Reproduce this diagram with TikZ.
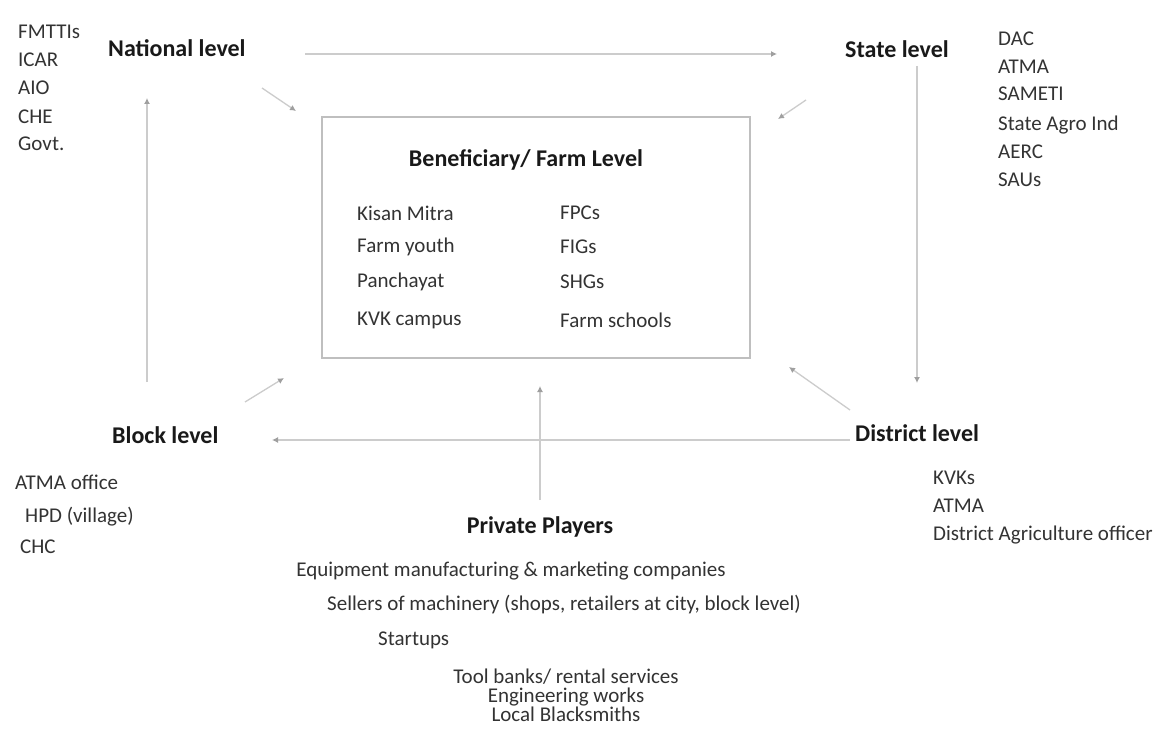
\documentclass[tikz,border=0pt]{standalone}
\usepackage{fontspec}
\setmainfont{Carlito}
\usetikzlibrary{arrows.meta}
\tikzset{
  lbl/.style={inner sep=0pt, anchor=west, text=black!80, font=\fontsize{21}{24}\selectfont},
  head/.style={inner sep=0pt, text=black!90, font=\bfseries\fontsize{24}{28}\selectfont},
  arr/.style={draw=gray!40, line width=1.3pt,
    -{Latex[length=6pt,width=6pt,color=gray!75,fill=gray!75]}},
  farmbox/.style={draw=gray!50, line width=1.6pt, fill=white}
}
\begin{document}
\begin{tikzpicture}[x=1pt,y=-1pt]
\useasboundingbox[fill=white] (0,0) rectangle (1153,738);

% level headings
\node[head, anchor=west] (nat) at (108,48) {National level};
\node[head, anchor=west] (state) at (845,49) {State level};
\node[head, anchor=west] (block) at (112,435) {Block level};
\node[head, anchor=west] (dist) at (855,433) {District level};
\node[head] (priv) at (540,527) {Private Players};

% national level bodies
\node[lbl] (n1) at (18,32) {FMTTIs};
\node[lbl] (n2) at (18,60) {ICAR};
\node[lbl] (n3) at (18,88) {AIO};
\node[lbl] (n4) at (18,117) {CHE};
\node[lbl] (n5) at (18,144) {Govt.};

% state level bodies
\node[lbl] (s1) at (998,39) {DAC};
\node[lbl] (s2) at (998,67) {ATMA};
\node[lbl] (s3) at (998,94) {SAMETI};
\node[lbl] (s4) at (998,125) {State Agro Ind};
\node[lbl] (s5) at (998,152) {AERC};
\node[lbl] (s6) at (998,180) {SAUs};

% central beneficiary box
\node[farmbox, minimum width=428pt, minimum height=241pt] (box) at (536,237.5) {};
\node[head] (boxt) at (526,160) {Beneficiary/ Farm Level};
\node[lbl] (b1) at (357,213) {Kisan Mitra};
\node[lbl] (b2) at (357,247) {Farm youth};
\node[lbl] (b3) at (357,282) {Panchayat};
\node[lbl] (b4) at (357,320) {KVK campus};
\node[lbl] (b5) at (560,213) {FPCs};
\node[lbl] (b6) at (560,247) {FIGs};
\node[lbl] (b7) at (560,282) {SHGs};
\node[lbl] (b8) at (560,320) {Farm schools};

% block level bodies
\node[lbl] (k1) at (15,482) {ATMA office};
\node[lbl] (k2) at (25,517) {HPD (village)};
\node[lbl] (k3) at (20,547) {CHC};

% district level bodies
\node[lbl] (d1) at (933,478) {KVKs};
\node[lbl] (d2) at (933,506) {ATMA};
\node[lbl] (d3) at (933,535) {District Agriculture officer};

% private players
\node[lbl, anchor=center] (p1) at (511,571) {Equipment manufacturing \& marketing companies};
\node[lbl, anchor=center] (p2) at (564,605) {Sellers of machinery (shops, retailers at city, block level)};
\node[lbl] (p3) at (378,640) {Startups};
\node[lbl, anchor=center, align=center, font=\fontsize{21}{19.2}\selectfont] (p4) at (566,695)
  {Tool banks/ rental services\\Engineering works\\Local Blacksmiths};

% connector end points
\coordinate (natA) at (305,54);
\coordinate (stateB) at (777,54);
\coordinate (natC) at (262,88);
\coordinate (boxTL) at (296,111);
\coordinate (stateC) at (806,100);
\coordinate (boxTR) at (778,119);
\coordinate (blockUp) at (147,382);
\coordinate (natDown) at (147,98);
\coordinate (stateDown) at (917,66);
\coordinate (distUp) at (917,383);
\coordinate (blockC) at (245,402);
\coordinate (boxBL) at (284,378);
\coordinate (distC) at (850,410);
\coordinate (boxBR) at (789,367);
\coordinate (distW) at (850,440);
\coordinate (blockE) at (272,440);
\coordinate (privUp) at (540,500);
\coordinate (boxB) at (540,386);

% connectors
\draw[arr] (natA) -- (stateB);
\draw[arr] (natC) -- (boxTL);
\draw[arr] (stateC) -- (boxTR);
\draw[arr] (blockUp) -- (natDown);
\draw[arr] (stateDown) -- (distUp);
\draw[arr] (blockC) -- (boxBL);
\draw[arr] (distC) -- (boxBR);
\draw[arr] (distW) -- (blockE);
\draw[arr] (privUp) -- (boxB);
\end{tikzpicture}
\end{document}
